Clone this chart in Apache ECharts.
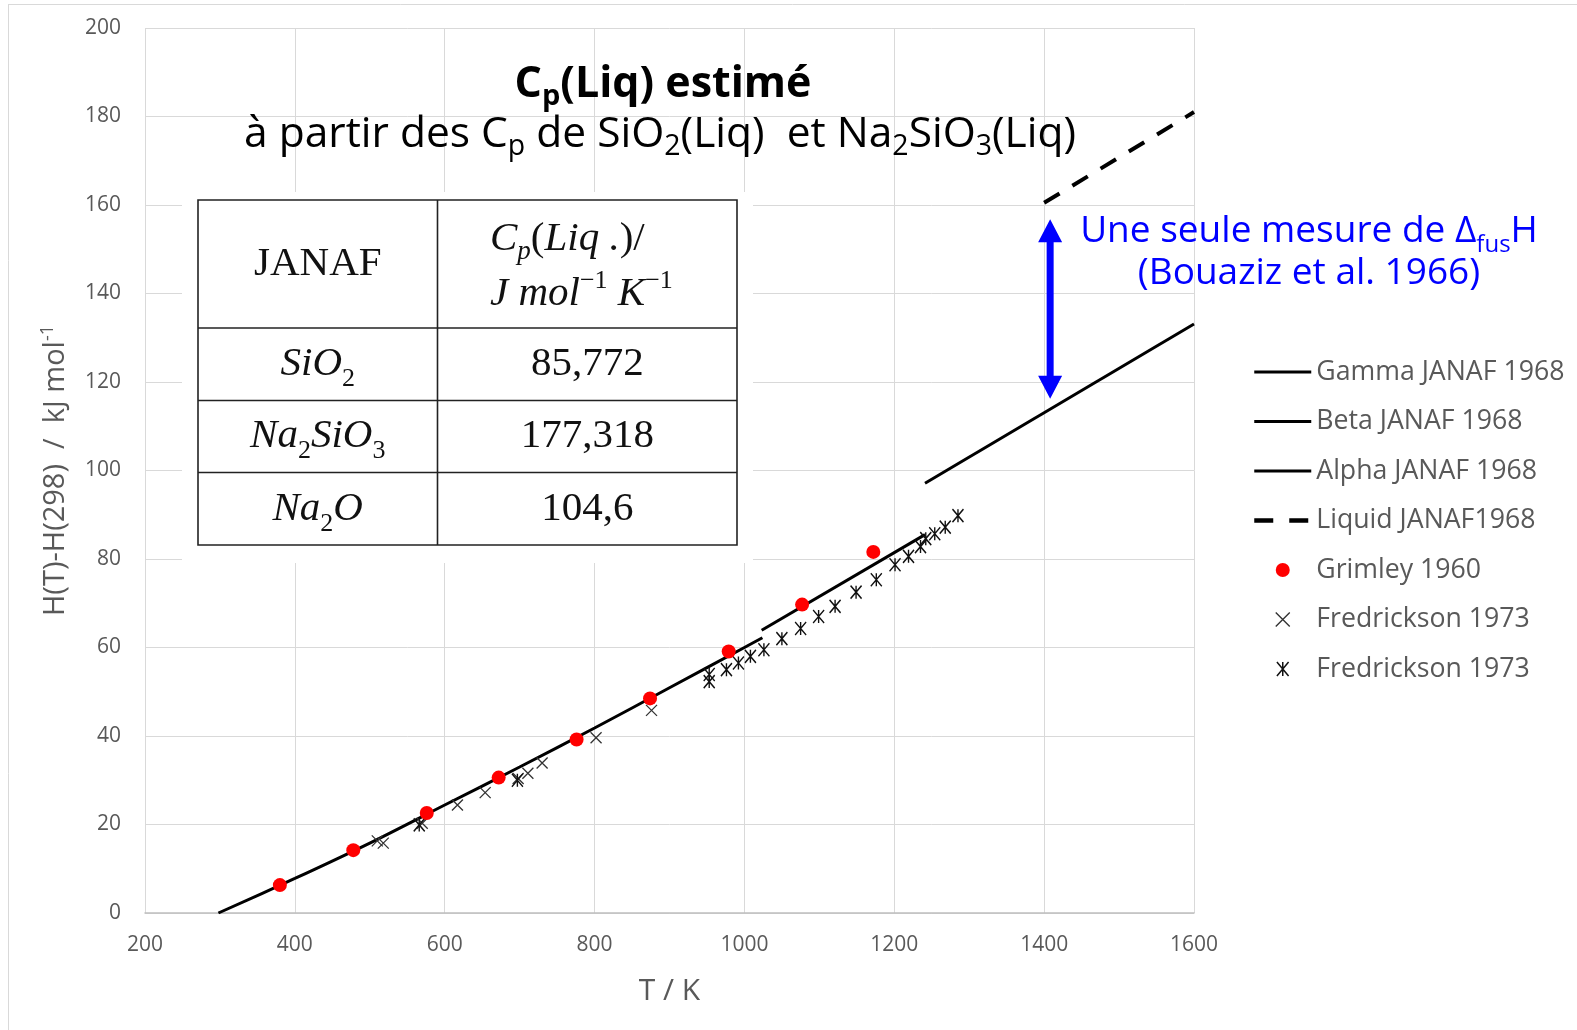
<!DOCTYPE html>
<html>
<head>
<meta charset="utf-8">
<script src="https://cdn.jsdelivr.net/npm/echarts@6.0.0/dist/echarts.min.js"></script>
<style>
  html, body { margin: 0; padding: 0; background: #ffffff; }
  #chart { width: 1577px; height: 1030px; }
</style>
</head>
<body>
<div id="chart"></div>
<script>
// H(T) - H(298) in kJ/mol, JANAF 1968 phases of Na2SiO3
const alphaJanaf  = [[298, 0], [400, 7.8], [500, 15.8], [600, 24.4], [700, 33.0], [800, 41.8], [900, 50.9], [1000, 60.0], [1024, 62.2]];
const betaJanaf   = [[1023, 63.9], [1241, 85.5]];
const gammaJanaf  = [[1241, 97.1], [1600, 133.1]];
const liquidJanaf = [[1400, 160.5], [1600, 181.0]];

// drop-calorimetry measurements
const grimley1960 = [[380, 6.3], [478, 14.2], [576, 22.6], [672, 30.6], [776, 39.2], [874, 48.5], [979, 59.1], [1077, 69.7], [1172, 81.6]];
const fredricksonCross = [[510, 16.3], [518, 15.8], [570, 20.3], [617, 24.4], [654, 27.2], [698, 30.4], [711, 31.6], [730, 33.9], [802, 39.6], [876, 45.8]];
const fredricksonStar = [[566, 19.9], [697, 30.0], [953, 52.3], [953, 53.9], [976, 55.0], [992, 56.5], [1008, 58.0], [1026, 59.5], [1050, 62.0],
  [1075, 64.3], [1099, 67.0], [1121, 69.3], [1149, 72.5], [1176, 75.3], [1201, 78.7], [1219, 80.6], [1235, 82.8], [1242, 84.6],
  [1254, 85.7], [1268, 87.2], [1285, 89.8]];

// single fusion-enthalpy step (Bouaziz et al. 1966): T, H below, H above
const fusionStep = [[1408, 116.2, 156.8]];

// liquid heat capacities used for the estimate, J/mol/K
const cpFormulas = ['{i|SiO}{isub|2}', '{i|Na}{isub|2}{i|SiO}{isub|3}', '{i|Na}{isub|2}{i|O}'];
const cpValues = ['85,772', '177,318', '104,6'];

// axis ranges
const tRange = [200, 1600, 200];
const hRange = [0, 200, 20];

const SANS = "'Open Sans', 'Noto Sans', sans-serif";
const SERIF = "'Liberation Serif', 'DejaVu Serif', serif";
const GREY = '#595959';
const INK = '#111111';

const crossPath = 'path://M0,0L10,10M10,0L0,10';
const starPath = 'path://M0,0L10,12M10,0L0,12M5,0L5,12';

function txt(x, y, text, opts) {
  const st = Object.assign({
    text: text, x: 0, y: 0,
    textAlign: 'center', align: 'center',
    textVerticalAlign: 'middle', verticalAlign: 'middle'
  }, opts);
  return { type: 'text', x: x, y: y, z: 10, style: st };
}

// rich styles for the serif table
const tableRich = {
  i:    { fontFamily: SERIF, fontStyle: 'italic', fontSize: 41, fill: INK, color: INK },
  u:    { fontFamily: SERIF, fontSize: 41, fill: INK, color: INK },
  isub: { fontFamily: SERIF, fontSize: 26, fill: INK, color: INK, padding: [30, 0, 0, 0] },
  psub: { fontFamily: SERIF, fontStyle: 'italic', fontSize: 27, fill: INK, color: INK, padding: [26, 0, 0, 0] },
  sup:  { fontFamily: SERIF, fontSize: 26, fill: INK, color: INK, padding: [0, 0, 26, 0] }
};

// table layout
const tbl = { left: 198, right: 737, top: 200, bottom: 545, split: 437.5, rows: [328, 400.5, 472.5] };
const rowCenters = [
  (tbl.rows[0] + tbl.rows[1]) / 2,
  (tbl.rows[1] + tbl.rows[2]) / 2,
  (tbl.rows[2] + tbl.bottom) / 2
];
const col1 = (tbl.left + tbl.split) / 2;
const col2 = (tbl.split + tbl.right) / 2;

const tableElements = [
  { type: 'rect', z: 5, shape: { x: 182, y: 192, width: 571, height: 371 }, style: { fill: '#ffffff' } },
  { type: 'rect', z: 6, shape: { x: tbl.left, y: tbl.top, width: tbl.right - tbl.left, height: tbl.bottom - tbl.top },
    style: { fill: '#ffffff', stroke: '#222222', lineWidth: 1.6 } },
  { type: 'line', z: 7, shape: { x1: tbl.split, y1: tbl.top, x2: tbl.split, y2: tbl.bottom }, style: { stroke: '#222222', lineWidth: 1.6 } }
].concat(tbl.rows.map(function (ry) {
  return { type: 'line', z: 7, shape: { x1: tbl.left, y1: ry, x2: tbl.right, y2: ry }, style: { stroke: '#222222', lineWidth: 1.6 } };
}));

tableElements.push(txt(col1, (tbl.top + tbl.rows[0]) / 2, 'JANAF', { fontFamily: SERIF, fontSize: 41, fill: INK }));
tableElements.push(txt(490, 239, '{i|C}{psub|p}{u|(}{i|Liq .}{u|)/}',
  { fontFamily: SERIF, fontSize: 41, fill: INK, textAlign: 'left', align: 'left', rich: tableRich }));
tableElements.push(txt(490, 294, '{i|J mol}{sup|−1}{i| K}{sup|−1}',
  { fontFamily: SERIF, fontSize: 41, fill: INK, textAlign: 'left', align: 'left', rich: tableRich }));
cpFormulas.forEach(function (f, k) {
  tableElements.push(txt(col1, rowCenters[k], f, { fontFamily: SERIF, fontSize: 41, fill: INK, rich: tableRich }));
  tableElements.push(txt(col2, rowCenters[k], cpValues[k], { fontFamily: SERIF, fontSize: 41, fill: INK }));
});

// heading over the plot
const titleRich = {
  b:    { fontFamily: SANS, fontWeight: 'bold', fontSize: 43, fill: '#000', color: '#000' },
  bsub: { fontFamily: SANS, fontWeight: 'bold', fontSize: 29, fill: '#000', color: '#000', padding: [23, 0, 0, 0] },
  n:    { fontFamily: SANS, fontSize: 42.5, fill: '#000', color: '#000' },
  nsub: { fontFamily: SANS, fontSize: 28.5, fill: '#000', color: '#000', padding: [23, 0, 0, 0] }
};
const headingElements = [
  txt(663, 85, '{b|C}{bsub|p}{b|(Liq) estimé}', { fontFamily: SANS, fontSize: 43, fontWeight: 'bold', fill: '#000', rich: titleRich }),
  txt(660, 135, '{n|à partir des C}{nsub|p}{n| de SiO}{nsub|2}{n|(Liq)  et Na}{nsub|2}{n|SiO}{nsub|3}{n|(Liq)}',
    { fontFamily: SANS, fontSize: 42.5, fill: '#000', rich: titleRich })
];

// note next to the fusion step
const blueRich = {
  t:   { fontFamily: SANS, fontSize: 37, fill: '#0000ff', color: '#0000ff' },
  sub: { fontFamily: SANS, fontSize: 24, fill: '#0000ff', color: '#0000ff', padding: [29, 0, 0, 0] }
};
const noteElements = [
  txt(1309, 231, '{t|Une seule mesure de Δ}{sub|fus}{t|H}', { fontFamily: SANS, fontSize: 37, fill: '#0000ff', rich: blueRich }),
  txt(1309, 273, '(Bouaziz et al. 1966)', { fontFamily: SANS, fontSize: 37, fill: '#0000ff' })
];

// frame edges
const frameElements = [
  { type: 'line', z: 1, shape: { x1: 8, y1: 4.5, x2: 1577, y2: 4.5 }, style: { stroke: '#d9d9d9', lineWidth: 1 } },
  { type: 'line', z: 1, shape: { x1: 8.5, y1: 4, x2: 8.5, y2: 1030 }, style: { stroke: '#d9d9d9', lineWidth: 1 } }
];

const chart = echarts.init(document.getElementById('chart'), null, { renderer: 'canvas' });

const plainNumber = function (v) { return String(v); };
const lineLegendItem = function (name, lineStyle) {
  return { name: name, itemStyle: { opacity: 0 }, lineStyle: lineStyle };
};

const option = {
  animation: false,
  backgroundColor: '#ffffff',
  grid: { left: 145, right: 383, top: 28, bottom: 117, containLabel: false },
  xAxis: {
    type: 'value', min: tRange[0], max: tRange[1], interval: tRange[2],
    name: 'T / K', nameLocation: 'middle', nameGap: 63,
    nameTextStyle: { fontFamily: SANS, fontSize: 30, color: GREY },
    axisLine: { show: true, onZero: false, lineStyle: { color: '#bfbfbf', width: 1.5 } },
    axisTick: { show: false },
    axisLabel: { margin: 22, fontFamily: SANS, fontSize: 21, color: GREY, formatter: plainNumber },
    splitLine: { show: true, lineStyle: { color: '#d9d9d9', width: 1 } }
  },
  yAxis: {
    type: 'value', min: hRange[0], max: hRange[1], interval: hRange[2],
    name: 'H(T)-H(298)  /  kJ mol{sup|-1}', nameLocation: 'middle', nameGap: 72, nameRotate: 90,
    nameTextStyle: {
      fontFamily: SANS, fontSize: 29, color: GREY,
      rich: { sup: { fontFamily: SANS, fontSize: 18, color: GREY, padding: [0, 0, 16, 0] } }
    },
    axisLine: { show: false },
    axisTick: { show: false },
    axisLabel: { margin: 24, fontFamily: SANS, fontSize: 21, color: GREY, formatter: plainNumber },
    splitLine: { show: true, lineStyle: { color: '#d9d9d9', width: 1 } }
  },
  legend: {
    orient: 'vertical', left: 1247, top: 352,
    itemWidth: 57, itemHeight: 14, itemGap: 19.5,
    selectedMode: false,
    textStyle: { fontFamily: SANS, fontSize: 26.7, color: GREY, lineHeight: 30 },
    data: [
      lineLegendItem('Gamma JANAF 1968', { color: '#000', width: 3 }),
      lineLegendItem('Beta JANAF 1968', { color: '#000', width: 3 }),
      lineLegendItem('Alpha JANAF 1968', { color: '#000', width: 3 }),
      lineLegendItem('Liquid JANAF1968', { color: '#000', width: 4.5, type: [19, 16] }),
      { name: 'Grimley 1960', itemStyle: { color: '#ff0000', opacity: 1 } },
      { name: 'Fredrickson 1973', itemStyle: { color: '#333333', borderColor: '#333333', borderWidth: 1.4, opacity: 1 } },
      { name: 'Fredrickson 1973 ', itemStyle: { color: '#111111', borderColor: '#111111', borderWidth: 1.5, opacity: 1 } }
    ]
  },
  series: [
    { name: 'Gamma JANAF 1968', type: 'line', data: gammaJanaf, symbol: 'none', showSymbol: false,
      lineStyle: { color: '#000000', width: 3 }, itemStyle: { color: '#000000' }, z: 2 },
    { name: 'Beta JANAF 1968', type: 'line', data: betaJanaf, symbol: 'none', showSymbol: false,
      lineStyle: { color: '#000000', width: 3 }, itemStyle: { color: '#000000' }, z: 2 },
    { name: 'Alpha JANAF 1968', type: 'line', data: alphaJanaf, symbol: 'none', showSymbol: false, smooth: 0.3,
      lineStyle: { color: '#000000', width: 3 }, itemStyle: { color: '#000000' }, z: 2 },
    { name: 'Liquid JANAF1968', type: 'line', data: liquidJanaf, symbol: 'none', showSymbol: false,
      lineStyle: { color: '#000000', width: 4, type: [18, 15] }, itemStyle: { color: '#000000' }, z: 2 },
    { name: 'Fredrickson 1973', type: 'scatter', data: fredricksonCross, symbol: crossPath, symbolSize: 11,
      itemStyle: { color: '#333333', borderColor: '#333333', borderWidth: 1.3, opacity: 1 }, z: 3 },
    { name: 'Fredrickson 1973 ', type: 'scatter', data: fredricksonStar, symbol: starPath, symbolSize: [11, 13],
      itemStyle: { color: '#111111', borderColor: '#111111', borderWidth: 1.5, opacity: 1 }, z: 3 },
    { name: 'Grimley 1960', type: 'scatter', data: grimley1960, symbol: 'circle', symbolSize: 14,
      itemStyle: { color: '#ff0000', opacity: 1 }, z: 4 },
    { name: 'fusion step', type: 'custom', data: fusionStep, encode: { x: 0, y: [1, 2] }, silent: true, z: 5,
      renderItem: function (params, api) {
        const lo = api.coord([api.value(0), api.value(1)]);
        const hi = api.coord([api.value(0), api.value(2)]);
        const x = lo[0], yLow = lo[1], yHigh = hi[1];
        const hw = 12, hl = 23, sw = 3.5;
        return {
          type: 'polygon',
          shape: { points: [[x, yHigh], [x + hw, yHigh + hl], [x + sw, yHigh + hl], [x + sw, yLow - hl], [x + hw, yLow - hl],
            [x, yLow], [x - hw, yLow - hl], [x - sw, yLow - hl], [x - sw, yHigh + hl], [x - hw, yHigh + hl]] },
          style: { fill: '#0000ff' }
        };
      }
    }
  ],
  graphic: { elements: frameElements.concat(tableElements, headingElements, noteElements) }
};

chart.setOption(option);
</script>
</body>
</html>
